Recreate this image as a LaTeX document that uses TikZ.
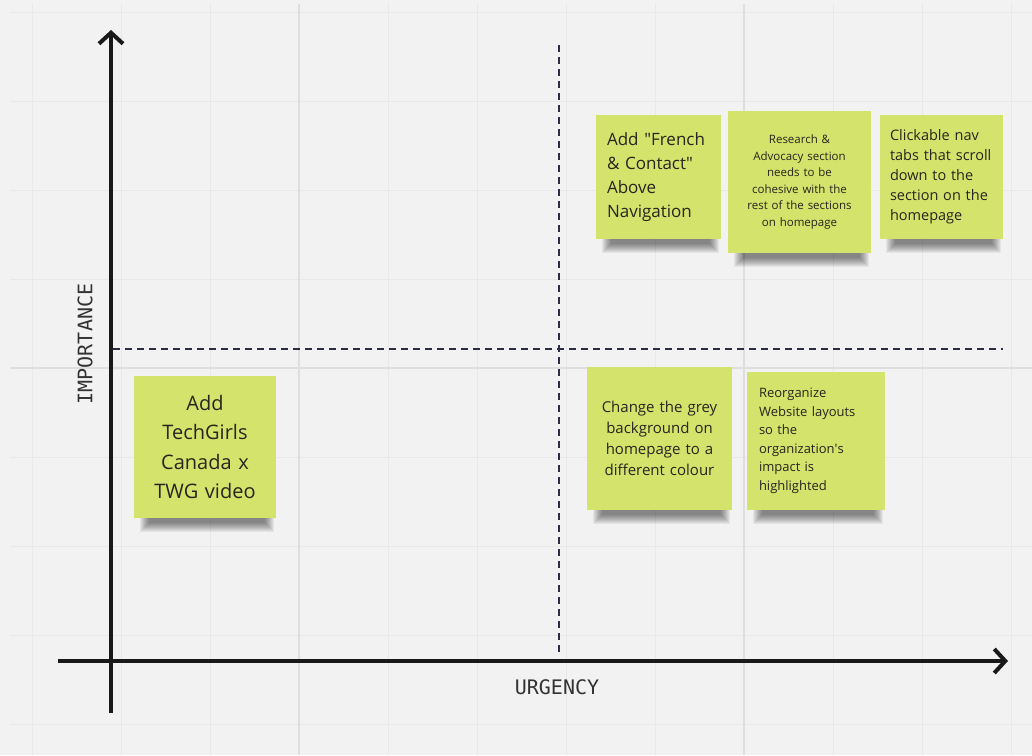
\documentclass[tikz,border=0pt]{standalone}
\usepackage{fontspec}
\setmainfont{Open Sans}
\newfontfamily\axisfont{DejaVu Sans Mono}
\usetikzlibrary{arrows.meta}

\definecolor{board}{HTML}{F2F2F2}
\definecolor{gridminor}{HTML}{E8E8E8}
\definecolor{gridmajor}{HTML}{DEDEDE}
\definecolor{sticky}{HTML}{D3E36C}
\definecolor{divider}{HTML}{2B2D42}
\definecolor{ink}{HTML}{26261E}

\pgfdeclarelayer{boardlayer}
\pgfdeclarelayer{shadowlayer}
\pgfsetlayers{boardlayer,shadowlayer,main}

\tikzset{
  axis/.style={line width=4pt, black!90, -{Straight Barb[length=11pt,width=24pt]}},
  divide/.style={divider, line width=1.8pt, dash pattern=on 6.5pt off 5.5pt},
  label/.style={font=\axisfont\fontsize{20}{20}\selectfont, black!80},
  note/.style={fill=sticky, inner ysep=0pt, inner xsep=11pt, text=ink},
  shadowstep/.style={fill=black, opacity=0.055},
}

\begin{document}
\begin{tikzpicture}[x=1pt,y=-1pt]
  %%%%% BOARD %%%%%
  \useasboundingbox (0,0) rectangle (1032,755);
  \begin{pgfonlayer}{boardlayer}
    \fill[board] (0,0) rectangle (1032,755);
    \foreach \gx in {32,121,210,388,477,566,655,833,922,1011}
      \draw[gridminor, line width=1pt] (\gx,4) -- (\gx,755);
    \foreach \gy in {12,101,190,279,457,546,635,724}
      \draw[gridminor, line width=1pt] (10,\gy) -- (1032,\gy);
    \foreach \gx in {299,744}
      \draw[gridmajor, line width=1.4pt] (\gx,4) -- (\gx,755);
    \draw[gridmajor, line width=1.4pt] (10,368) -- (1032,368);
  \end{pgfonlayer}

  %%%%% AXES %%%%%
  \coordinate (ybot) at (111,713);
  \coordinate (ytop) at (111,30);
  \coordinate (xleft) at (58,661);
  \coordinate (xright) at (1008,661);
  \draw[axis] (ybot) -- (ytop);
  \draw[axis] (xleft) -- (xright);

  \node[label, rotate=90] (importance) at (85,344) {IMPORTANCE};
  \node[label] (urgency) at (557,687) {URGENCY};

  %%%%% QUADRANTS %%%%%
  \coordinate (vtop) at (559,45);
  \coordinate (vbot) at (559,652);
  \coordinate (hleft) at (113,349);
  \coordinate (hright) at (1003,349);
  \draw[divide] (vtop) -- (vbot);
  \draw[divide] (hleft) -- (hright);

  %%%%% NOTES %%%%%
  \node[note, minimum width=125pt, minimum height=124pt, text width=103pt, align=left,
    font=\fontsize{17}{24}\selectfont] (french) at (658.5,177)
    {Add \textquotedbl French\\ \& Contact\textquotedbl\\ Above\\ Navigation};

  \node[note, minimum width=143pt, minimum height=142pt, text width=121pt, align=center,
    font=\fontsize{11.5}{16.5}\selectfont] (research) at (799.5,182)
    {Research \&\\ Advocacy section\\ needs to be\\ cohesive with the\\ rest of the sections\\ on homepage};

  \node[note, minimum width=123pt, minimum height=124pt, text width=103pt, align=left,
    inner xsep=10pt, font=\fontsize{14.5}{20}\selectfont] (navtabs) at (941.5,177)
    {Clickable nav\\ tabs that scroll\\ down to the\\ section on the\\ homepage};

  \node[note, minimum width=145pt, minimum height=143pt, text width=123pt, align=center,
    font=\fontsize{15}{21}\selectfont] (grey) at (659.5,438.5)
    {Change the grey\\ background on\\ homepage to a\\ different colour};

  \node[note, minimum width=138pt, minimum height=138pt, text width=114pt, align=left,
    inner xsep=12pt, font=\fontsize{13}{18.5}\selectfont] (layouts) at (816,441)
    {Reorganize\\ Website layouts\\ so the\\ organization\textquotesingle s\\ impact is\\ highlighted};

  \node[note, minimum width=142pt, minimum height=142pt, text width=120pt, align=center,
    font=\fontsize{20}{29.5}\selectfont] (video) at (205,447)
    {Add\\ TechGirls\\ Canada x\\ TWG video};

  % soft shadow under the bottom edge of each note
  \begin{pgfonlayer}{shadowlayer}
    \foreach \n in {french,research,navtabs,grey,layouts,video}
      \foreach \k in {1,...,10}
        \fill[shadowstep] ([xshift=(5+\k)*1pt, yshift=2pt]\n.south west)
          rectangle ([xshift=-(1+\k)*1pt, yshift=-(15-\k)*1pt]\n.south east);
  \end{pgfonlayer}
\end{tikzpicture}
\end{document}
